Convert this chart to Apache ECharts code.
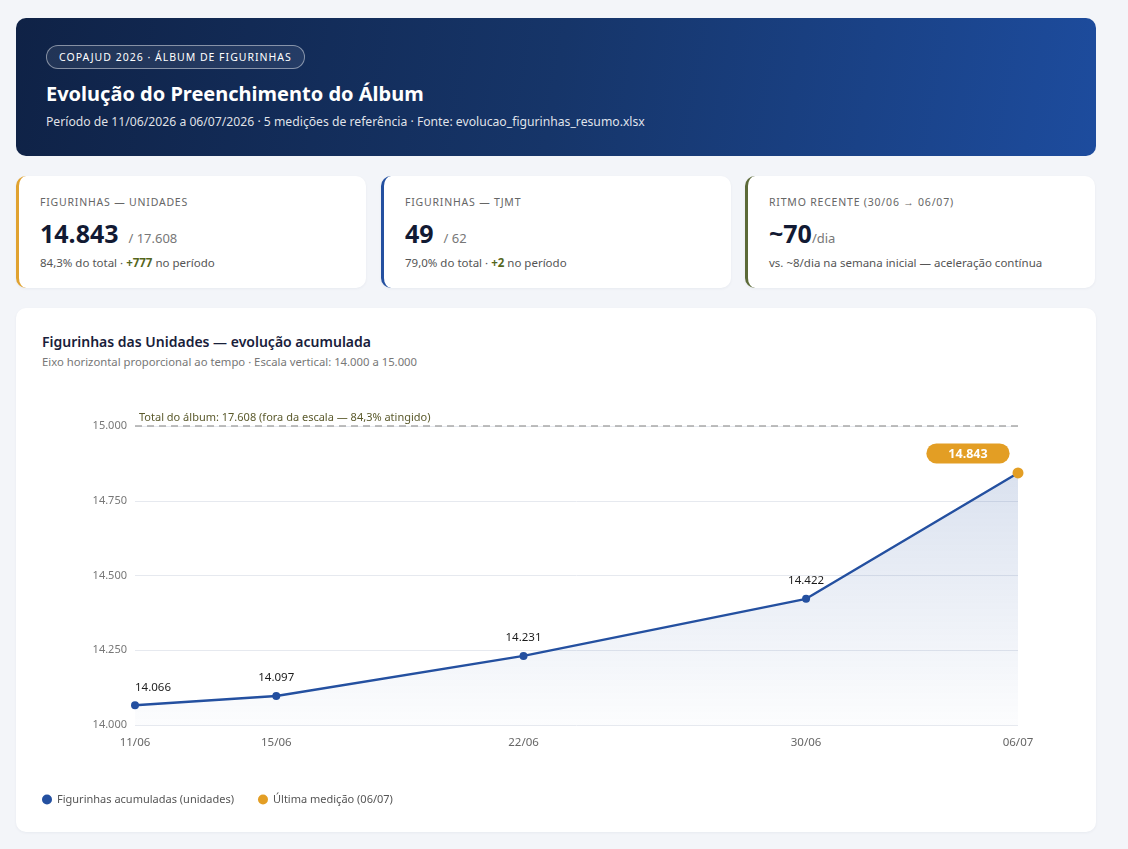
<!DOCTYPE html>
<html lang="pt-BR">
<head>
<meta charset="utf-8">
<title>Evolução do Preenchimento do Álbum</title>
<script src="https://cdn.jsdelivr.net/npm/echarts@6/dist/echarts.min.js"></script>
<style>
    * { box-sizing: border-box; margin: 0; padding: 0; }
    body {
        background: #f3f5f9;
        font-family: "Noto Sans", "Open Sans", sans-serif;
        width: 1128px; height: 849px; overflow: hidden;
    }
    .hero {
        position: absolute; left: 16px; top: 18px; width: 1080px; height: 138px;
        border-radius: 10px;
        background: linear-gradient(100deg, #0f2246 0%, #163569 50%, #1d4c9e 100%);
        color: #fff;
    }
    .badge {
        position: absolute; left: 30px; top: 27px; height: 24px; padding: 0 12px;
        border: 1px solid rgba(255,255,255,0.45); border-radius: 12px;
        background: rgba(255,255,255,0.08);
        font-size: 10.5px; letter-spacing: 1px; line-height: 22px;
    }
    .hero h1 { position: absolute; left: 30px; top: 62px; font-size: 20px; font-weight: 700; }
    .hero p { position: absolute; left: 30px; top: 95px; font-size: 12.2px; color: rgba(255,255,255,0.88); }
    .card {
        position: absolute; top: 176px; width: 350px; height: 112px;
        background: #fff; border-radius: 10px; border-left: 3px solid;
        box-shadow: 0 1px 3px rgba(20,40,80,0.05);
    }
    .card .lbl { position: absolute; left: 21px; top: 19px; font-size: 10.5px; letter-spacing: 0.8px; color: #666; }
    .card .big { position: absolute; left: 21px; top: 40px; font-size: 25px; font-weight: 700; color: #121a33; }
    .card .big span { font-size: 13px; font-weight: 400; color: #777; }
    .card .sub { position: absolute; left: 21px; top: 79px; font-size: 11.5px; color: #555; }
    .card .sub b { color: #55661c; }
    .panel {
        position: absolute; left: 16px; top: 308px; width: 1080px; height: 524px;
        background: #fff; border-radius: 10px;
        box-shadow: 0 1px 3px rgba(20,40,80,0.05);
    }
    .panel h2 { position: absolute; left: 26px; top: 24px; font-size: 14px; font-weight: 600; color: #18203a; }
    .panel .note { position: absolute; left: 26px; top: 46px; font-size: 11.3px; color: #777; }
    #chrt_album { position: absolute; left: 0; top: 70px; width: 1080px; height: 454px; }
</style>
</head>
<body>
<div class="hero">
    <div class="badge">COPAJUD 2026 · ÁLBUM DE FIGURINHAS</div>
    <h1>Evolução do Preenchimento do Álbum</h1>
    <p>Período de 11/06/2026 a 06/07/2026 · 5 medições de referência · Fonte: evolucao_figurinhas_resumo.xlsx</p>
</div>

<div class="card" style="left:16px;border-color:#e0a230">
    <div class="lbl">FIGURINHAS — UNIDADES</div>
    <div class="big">14.843 <span>&nbsp;/ 17.608</span></div>
    <div class="sub">84,3% do total · <b>+777</b> no período</div>
</div>
<div class="card" style="left:381px;border-color:#2450a0">
    <div class="lbl">FIGURINHAS — TJMT</div>
    <div class="big">49 <span>&nbsp;/ 62</span></div>
    <div class="sub">79,0% do total · <b>+2</b> no período</div>
</div>
<div class="card" style="left:745px;border-color:#5c6a38">
    <div class="lbl">RITMO RECENTE (30/06 → 06/07)</div>
    <div class="big">~70<span>/dia</span></div>
    <div class="sub">vs. ~8/dia na semana inicial — aceleração contínua</div>
</div>

<div class="panel">
    <h2>Figurinhas das Unidades — evolução acumulada</h2>
    <div class="note">Eixo horizontal proporcional ao tempo · Escala vertical: 14.000 a 15.000</div>
    <div id="chrt_album"></div>
</div>

<script>
// medições (datas e valores acumulados)
const dates = ['2026-06-11', '2026-06-15', '2026-06-22', '2026-06-30', '2026-07-06']
const unidades = [14066, 14097, 14231, 14422, 14843]
const albumTotal = 17608
const yTicks = [14000, 14250, 14500, 14750, 15000]

const blue = '#2450a0'
const gold = '#e39e24'
const DAY = 86400000

function fmt(n) {
    return String(Math.round(n)).replace(/\B(?=(\d{3})+(?!\d))/g, '.')
}
function ts(d) {
    const p = d.split('-')
    return Date.UTC(+p[0], +p[1] - 1, +p[2])
}
// dias desde a primeira medição -> eixo proporcional ao tempo
const t0 = ts(dates[0])
const days = dates.map(d => Math.round((ts(d) - t0) / DAY))
function ddmm(v) {
    const d = new Date(t0 + v * DAY)
    return String(d.getUTCDate()).padStart(2, '0') + '/' + String(d.getUTCMonth() + 1).padStart(2, '0')
}

const last = unidades.length - 1
const pct = (unidades[last] / albumTotal * 100).toFixed(1).replace('.', ',')

const lineData = days.map((x, i) => {
    const item = { value: [x, unidades[i]] }
    if (i === 0) item.label = { offset: [18, 0] } // primeiro rótulo deslocado
    if (i === last) item.label = { show: false }
    return item
})

const chart = echarts.init(document.getElementById('chrt_album'))
chart.setOption({
    animation: false,
    textStyle: { fontFamily: '"Noto Sans", sans-serif' },
    grid: { left: 119, right: 78, top: 48, bottom: 107 },
    legend: {
        left: 21, bottom: 22, icon: 'circle', itemWidth: 10, itemHeight: 10, itemGap: 24,
        textStyle: { color: '#555', fontSize: 11 },
        data: ['Figurinhas acumuladas (unidades)', 'Última medição (06/07)']
    },
    xAxis: {
        type: 'value',
        min: days[0], max: days[last],
        axisLine: { show: false },
        axisTick: { show: false },
        splitLine: { show: false },
        axisLabel: {
            customValues: days,
            formatter: ddmm,
            color: '#666', fontSize: 11.5, margin: 12
        }
    },
    yAxis: {
        type: 'value',
        min: yTicks[0], max: yTicks[yTicks.length - 1], interval: 250,
        axisLine: { show: false },
        axisTick: { show: false },
        axisLabel: { formatter: fmt, color: '#777', fontSize: 11, margin: 8 },
        splitLine: { lineStyle: { color: '#e6e9ef' } }
    },
    series: [
        {
            name: 'Figurinhas acumuladas (unidades)',
            type: 'line',
            data: lineData,
            color: blue,
            symbol: 'circle', symbolSize: 8,
            lineStyle: { width: 2.4, color: blue },
            itemStyle: { color: blue },
            label: {
                show: true, position: 'top', distance: 8,
                color: '#1c1c1c', fontSize: 11.5,
                formatter: p => fmt(p.value[1])
            },
            areaStyle: {
                color: {
                    type: 'linear', x: 0, y: 0, x2: 0, y2: 1,
                    colorStops: [
                        { offset: 0, color: 'rgba(36,80,160,0.24)' },
                        { offset: 1, color: 'rgba(36,80,160,0.02)' }
                    ]
                }
            },
            markLine: {
                silent: true, symbol: 'none',
                lineStyle: { type: [7, 5], color: '#a9a9a9', width: 1.5 },
                label: {
                    position: 'insideStartTop', distance: [4, 3],
                    color: '#5b5a2c', fontSize: 11,
                    formatter: 'Total do álbum: ' + fmt(albumTotal) + ' (fora da escala — ' + pct + '% atingido)'
                },
                data: [{ yAxis: yTicks[yTicks.length - 1] }]
            },
            z: 2
        },
        {
            name: 'Última medição (06/07)',
            type: 'scatter',
            data: [[days[last], unidades[last]]],
            color: gold,
            symbolSize: 11,
            itemStyle: { color: gold, opacity: 1 },
            label: {
                show: true, position: 'top', distance: 4, offset: [-50, 0],
                backgroundColor: gold, borderRadius: 11,
                padding: [4, 22, 3, 22],
                color: '#fff', fontWeight: 700, fontSize: 12.5,
                formatter: p => fmt(p.value[1])
            },
            z: 3
        }
    ]
})
</script>
</body>
</html>
